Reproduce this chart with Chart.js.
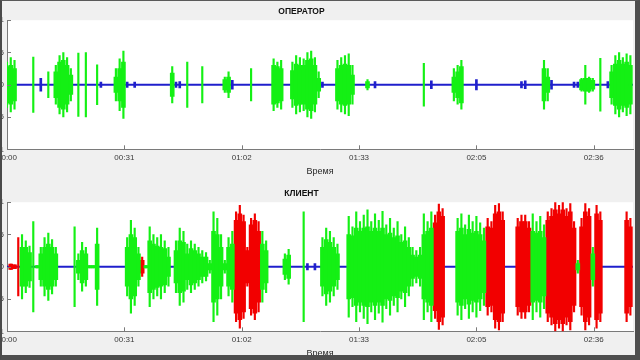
<!DOCTYPE html>
<html>
<head>
<meta charset="utf-8">
<script src="https://cdn.jsdelivr.net/npm/chart.js@4.4.0/dist/chart.umd.min.js"></script>
<style>
  html, body { margin: 0; padding: 0; }
  body { width: 640px; height: 360px; overflow: hidden; background: #f0f0f0; position: relative; }
  .panel { position: absolute; left: -30px; width: 670px; height: 180px; }
  #frame { position: absolute; left: 0; top: 0; width: 640px; height: 360px; box-sizing: border-box;
    border-left: 2px solid #4a4a4a; border-top: 1px solid #5a5a5a; border-right: 5px solid #4e4e4e; border-bottom: 5px solid #4e4e4e;
    pointer-events: none; }
</style>
</head>
<body>
<div class="panel" style="top:0"><canvas id="opChart" width="670" height="180"></canvas></div>
<div class="panel" style="top:182px"><canvas id="cliChart" width="670" height="180"></canvas></div>
<div id="frame"></div>
<script>
// время, сек
const xMax = 166.7;
const timeSpan = [0, xMax];
const tickSecs = [0, 31.25, 62.5, 93.75, 125, 156.25];
const tickLabels = ['00:00', '00:31', '01:02', '01:33', '02:05', '02:36'];
const yTicks = [-1, -0.5, 0, 0.5, 1];

// ОПЕРАТОР: для каждой секунды - плотная часть (core) и пики (peak)
const opGreenSec = [0,1,2,13,14,15,16,17,29,30,31,44,58,59,71,72,73,76,77,78,79,80,81,82,83,88,89,90,91,92,96,119,120,121,143,144,153,154,155,156,161,162,163,164,165,166];
const opGreenPeak = [0.35,0.42,0.38,0.3,0.45,0.5,0.42,0.25,0.25,0.4,0.52,0.28,0.12,0.2,0.4,0.35,0.38,0.35,0.45,0.42,0.4,0.5,0.52,0.42,0.2,0.38,0.42,0.45,0.48,0.3,0.08,0.25,0.3,0.38,0.38,0.25,0.1,0.3,0.12,0.1,0.3,0.45,0.5,0.42,0.48,0.45];
const opGreenCore = [0.28,0.3,0.25,0.2,0.35,0.38,0.3,0.15,0.12,0.25,0.35,0.18,0.08,0.12,0.3,0.28,0.25,0.22,0.32,0.3,0.3,0.38,0.4,0.3,0.1,0.25,0.3,0.32,0.3,0.15,0.05,0.12,0.2,0.28,0.25,0.12,0.08,0.1,0.1,0.07,0.2,0.32,0.38,0.32,0.35,0.3];
// отдельные узкие всплески
const opSpikeSec = [7,11,19,21,24,48,52,65,111,158];
const opSpikeAmp = [0.43,0.2,0.49,0.5,0.31,0.35,0.28,0.25,0.33,0.41];
const opBlueSec = [9,25,32,34,45,46,60,84,98,113,125,137,138,145,151,152,160];
const opBlueAmp = [0.1,0.04,0.04,0.04,0.04,0.05,0.07,0.04,0.05,0.06,0.08,0.05,0.06,0.07,0.04,0.04,0.05];

// КЛИЕНТ
const cliGreenSec = [4,5,6,8,9,10,11,12,13,19,20,21,22,23,24,32,33,34,35,37,38,39,40,41,42,43,45,46,47,48,49,50,51,52,53,54,55,56,57,58,59,60,68,69,74,75,84,85,86,87,88,91,92,93,94,95,96,97,98,99,100,101,102,103,104,105,106,107,108,109,110,111,112,113,120,121,122,123,124,125,126,127,140,141,142,143,152,156];
const cliGreenPeak = [0.5,0.4,0.32,0.02,0.3,0.45,0.52,0.42,0.3,
  0.2,0.38,0.3,0.02,0.02,0.6,
  0.45,0.72,0.6,0.3,
  0.02,0.62,0.5,0.45,0.5,0.4,0.3,
  0.4,0.6,0.55,0.35,0.4,0.35,0.3,0.25,0.22,0.1,0.85,0.75,0.5,0.1,0.45,0.55,
  0.55,0.4,
  0.2,0.27,
  0.45,0.6,0.55,0.45,0.35,
  0.78,0.62,0.85,0.7,0.8,0.88,0.7,0.82,0.72,0.86,0.65,0.75,0.6,0.7,0.5,0.62,0.45,0.3,0.25,0.3,0.82,0.7,0.85,
  0.75,0.82,0.65,0.8,0.7,0.78,0.68,0.6,
  0.82,0.7,0.78,0.65,
  0.1,
  0.3];
const cliGreenCore = [0.3,0.3,0.22,0.02,0.2,0.3,0.35,0.3,0.2,
  0.1,0.25,0.2,0.02,0.02,0.35,
  0.3,0.5,0.45,0.2,
  0.02,0.4,0.35,0.32,0.3,0.28,0.15,
  0.25,0.4,0.38,0.2,0.28,0.25,0.2,0.15,0.15,0.05,0.55,0.5,0.3,0.05,0.3,0.35,
  0.35,0.25,
  0.12,0.18,
  0.3,0.42,0.38,0.3,0.2,
  0.5,0.48,0.6,0.55,0.6,0.62,0.55,0.6,0.55,0.6,0.5,0.52,0.45,0.48,0.38,0.4,0.3,0.18,0.15,0.18,0.5,0.55,0.6,
  0.55,0.6,0.5,0.58,0.52,0.55,0.5,0.4,
  0.55,0.52,0.55,0.45,
  0.05,
  0.2];
const cliSpikeSec = [7,18,79];
const cliSpikeAmp = [0.7,0.62,0.85];
const cliRedSec = [1,2,36,61,62,63,64,65,66,67,114,115,116,128,129,130,131,132,136,137,138,139,144,145,146,147,148,149,150,151,153,154,155,157,158,165,166];
const cliRedPeak = [0.04,0.03,0.15,0.85,0.95,0.8,0.3,0.75,0.82,0.7,0.8,0.97,0.9,0.75,0.7,0.95,0.98,0.85,0.75,0.8,0.8,0.7,0.85,0.9,1.0,0.95,1.0,0.9,0.98,0.7,0.75,0.98,0.9,0.95,0.85,0.85,0.75];
const cliRedCore = [0.04,0.03,0.1,0.72,0.82,0.7,0.25,0.65,0.72,0.55,0.68,0.85,0.78,0.62,0.6,0.82,0.85,0.72,0.62,0.7,0.7,0.6,0.72,0.78,0.88,0.82,0.88,0.78,0.85,0.6,0.62,0.85,0.78,0.82,0.72,0.72,0.62];
const cliRedSpikeSec = [3];
const cliRedSpikeAmp = [0.45];
const cliBlueSec = [80,82];
const cliBlueAmp = [0.05,0.05];

const GREEN = '#14f014', RED = '#f20000', BLUE = '#1f1fcc';
const axisGrey = '#7a7a7a';
const FONT = "'Liberation Sans', Arial, sans-serif";
const WIDE = 4, THIN = 1.5;

// белый фон области графика
const plotBg = {
  id: 'plotBg',
  beforeDraw(chart) {
    const a = chart.chartArea, ctx = chart.ctx;
    ctx.save();
    ctx.fillStyle = '#ffffff';
    ctx.fillRect(a.left, a.top, a.right - a.left, a.bottom - a.top);
    ctx.restore();
  }
};

// засечки внутрь, как в MATLAB
const inwardTicks = {
  id: 'inwardTicks',
  afterDraw(chart) {
    const {ctx, chartArea: a} = chart;
    const x = chart.scales.x, y = chart.scales.y;
    ctx.save();
    ctx.strokeStyle = axisGrey;
    ctx.lineWidth = 1;
    ctx.beginPath();
    x.ticks.forEach(t => {
      const px = Math.round(x.getPixelForValue(t.value)) + 0.5;
      ctx.moveTo(px, a.bottom); ctx.lineTo(px, a.bottom - 4);
    });
    y.ticks.forEach(t => {
      const py = Math.round(y.getPixelForValue(t.value)) + 0.5;
      ctx.moveTo(a.left, py); ctx.lineTo(a.left + 4, py);
    });
    ctx.stroke();
    ctx.restore();
  }
};

function makePanel(id, title, series) {
  const datasets = series.map(s => ({
    type: 'bar',
    data: s.sec.map((t, i) => ({ x: t, y: [-s.amp[i], s.amp[i]] })),
    backgroundColor: s.color,
    borderWidth: 0,
    grouped: false,
    barThickness: s.w,
    clip: 0,
    order: 0
  }));
  datasets.push({
    type: 'line',
    data: timeSpan.map(t => ({ x: t, y: 0 })),
    borderColor: BLUE,
    borderWidth: 2,
    pointRadius: 0,
    clip: 0,
    order: 5
  });

  return new Chart(document.getElementById(id), {
    type: 'bar',
    data: { datasets: datasets },
    options: {
      responsive: false,
      animation: false,
      devicePixelRatio: 1,
      layout: { padding: { left: 0, right: 7, top: 0, bottom: 0 } },
      plugins: {
        legend: { display: false },
        tooltip: { enabled: false },
        title: {
          display: true,
          text: title,
          color: '#111111',
          font: { family: FONT, size: 8.5, weight: 'bold' },
          padding: { top: 7, bottom: 3 }
        }
      },
      scales: {
        x: {
          type: 'linear',
          min: 0,
          max: xMax,
          offset: false,
          grid: { display: false, drawTicks: false },
          border: { display: true, color: axisGrey, width: 1 },
          afterBuildTicks: s => { s.ticks = tickSecs.map(v => ({ value: v })); },
          ticks: {
            padding: 3.9,
            autoSkip: false,
            maxRotation: 0,
            color: '#3a3a3a',
            font: { family: FONT, size: 8 },
            callback: (v, i) => tickLabels[i]
          },
          title: {
            display: true,
            text: 'Время',
            color: '#2a2a2a',
            font: { family: FONT, size: 9, lineHeight: 1 },
            padding: { top: 0, bottom: 4.3 }
          }
        },
        y: {
          min: -1,
          max: 1,
          afterFit: s => { s.width = 37; },
          afterBuildTicks: s => { s.ticks = yTicks.map(v => ({ value: v })); },
          grid: { display: false, drawTicks: false },
          border: { display: true, color: axisGrey, width: 1 },
          ticks: {
            padding: 3,
            color: '#3a3a3a',
            font: { family: FONT, size: 8 },
            callback: v => String(v)
          }
        }
      }
    },
    plugins: [plotBg, inwardTicks]
  });
}

makePanel('opChart', 'ОПЕРАТОР', [
  { sec: opGreenSec, amp: opGreenCore, color: GREEN, w: WIDE },
  { sec: opGreenSec, amp: opGreenPeak, color: GREEN, w: THIN },
  { sec: opSpikeSec, amp: opSpikeAmp, color: GREEN, w: THIN },
  { sec: opBlueSec, amp: opBlueAmp, color: BLUE, w: 2 }
]);

makePanel('cliChart', 'КЛИЕНТ', [
  { sec: cliGreenSec, amp: cliGreenCore, color: GREEN, w: WIDE },
  { sec: cliGreenSec, amp: cliGreenPeak, color: GREEN, w: THIN },
  { sec: cliSpikeSec, amp: cliSpikeAmp, color: GREEN, w: THIN },
  { sec: cliRedSec, amp: cliRedCore, color: RED, w: WIDE },
  { sec: cliRedSec, amp: cliRedPeak, color: RED, w: THIN },
  { sec: cliRedSpikeSec, amp: cliRedSpikeAmp, color: RED, w: THIN },
  { sec: cliBlueSec, amp: cliBlueAmp, color: BLUE, w: 2 }
]);
</script>
</body>
</html>
